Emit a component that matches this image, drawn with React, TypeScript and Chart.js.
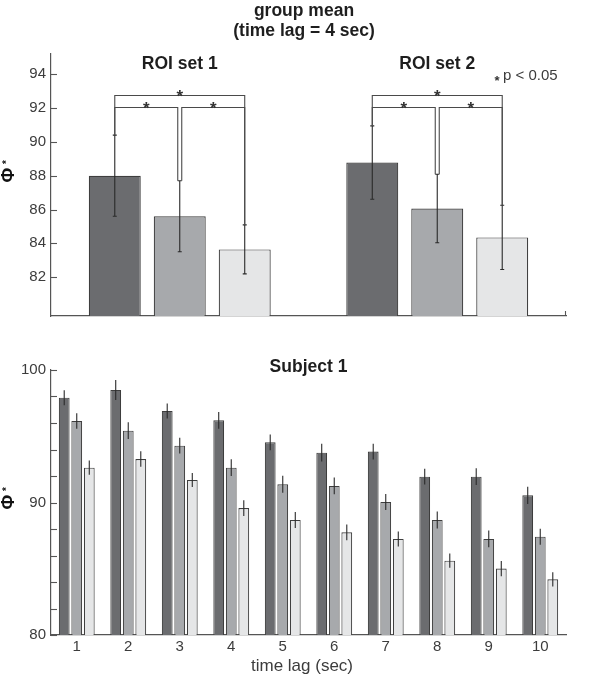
import React, { useEffect, useRef } from "react";
import { Chart, registerables } from "chart.js";

Chart.register(...registerables);

// ---- group mean panel (time lag = 4 sec) ----
const groupCategories = ["ROI set 1", "ROI set 2"];
const groupMeanA = [88.0, 88.78];
const groupMeanB = [85.6, 86.06];
const groupMeanC = [83.64, 84.35];
const groupErrA = [2.4, 2.17];
const groupErrB = [2.1, 2.03];
const groupErrC = [1.45, 1.9];
const groupTicks = [82, 84, 86, 88, 90, 92, 94];
// significance brackets per ROI set: [first bar, last bar, level in Φ* units]
const groupBrackets: [number, number, number][] = [
  [0, 2, 92.76],
  [0, 1, 92.07],
  [1, 2, 92.07],
];

// ---- Subject 1 panel ----
const lagLabels = ["1", "2", "3", "4", "5", "6", "7", "8", "9", "10"];
const subjA = [97.91, 98.49, 96.91, 96.2, 94.54, 93.76, 93.84, 91.95, 91.95, 90.54];
const subjB = [96.15, 95.42, 94.29, 92.63, 91.37, 91.25, 90.04, 88.68, 87.25, 87.42];
const subjC = [92.63, 93.28, 91.7, 89.58, 88.68, 87.75, 87.25, 85.61, 85.01, 84.2];
const subjErrA = [0.57, 0.75, 0.57, 0.63, 0.6, 0.67, 0.6, 0.6, 0.63, 0.65];
const subjErrB = [0.58, 0.63, 0.6, 0.63, 0.64, 0.63, 0.6, 0.65, 0.63, 0.6];
const subjErrC = [0.54, 0.59, 0.53, 0.59, 0.6, 0.59, 0.57, 0.54, 0.58, 0.54];
const subjTickMarks = [80, 82, 84, 86, 88, 90, 92, 94, 96, 98, 100];
const subjTickLabels = [80, 90, 100];

const DARK = "#6b6c6f";
const MID = "#a7a9ac";
const LIGHT = "#e5e6e7";
const EDGE = "#3e3e3e";
const AXIS = "#555555";
const TEXT = "#3c3c3c";
const TITLE = "#1e1e1e";
const FONT = '"Liberation Sans", Arial, sans-serif';

function errorBarPlugin(errs: number[][], means: number[][], cap: number) {
  return {
    id: "errorBars",
    afterDatasetsDraw(chart: any) {
      const ctx = chart.ctx;
      const y = chart.scales.y;
      ctx.save();
      ctx.strokeStyle = "#2a2a2a";
      ctx.lineWidth = 1.1;
      errs.forEach((errList, i) => {
        const meta = chart.getDatasetMeta(i);
        meta.data.forEach((bar: any, j: number) => {
          const top = y.getPixelForValue(means[i][j] + errList[j]);
          const bot = y.getPixelForValue(means[i][j] - errList[j]);
          ctx.beginPath();
          ctx.moveTo(bar.x, top);
          ctx.lineTo(bar.x, bot);
          if (cap > 0) {
            ctx.moveTo(bar.x - cap, top);
            ctx.lineTo(bar.x + cap, top);
            ctx.moveTo(bar.x - cap, bot);
            ctx.lineTo(bar.x + cap, bot);
          }
          ctx.stroke();
        });
      });
      ctx.restore();
    },
  };
}

function tickMarkPlugin(values: number[]) {
  return {
    id: "innerTicks",
    afterDraw(chart: any) {
      const ctx = chart.ctx;
      const y = chart.scales.y;
      const left = chart.chartArea.left;
      ctx.save();
      ctx.strokeStyle = AXIS;
      ctx.lineWidth = 1.1;
      values.forEach((v) => {
        const py = Math.round(y.getPixelForValue(v)) + 0.5;
        ctx.beginPath();
        ctx.moveTo(left, py);
        ctx.lineTo(left + 6, py);
        ctx.stroke();
      });
      ctx.restore();
    },
  };
}

// rotated axis title: Φ with a superscript asterisk
function drawPhi(ctx: CanvasRenderingContext2D, x: number, y: number) {
  ctx.save();
  ctx.translate(x, y);
  ctx.rotate(-Math.PI / 2);
  ctx.fillStyle = "#111";
  ctx.font = `bold 18px ${FONT}`;
  ctx.textAlign = "center";
  ctx.textBaseline = "alphabetic";
  ctx.fillText("Φ", 0, 0);
  ctx.font = `bold 10px ${FONT}`;
  ctx.fillText("*", 13, -4.5);
  ctx.restore();
}

function drawStar(ctx: CanvasRenderingContext2D, x: number, y: number, size: number) {
  ctx.save();
  ctx.fillStyle = "#333";
  ctx.font = `bold ${size}px ${FONT}`;
  ctx.textAlign = "center";
  ctx.textBaseline = "alphabetic";
  ctx.fillText("*", x, y);
  ctx.restore();
}

const groupDecor = {
  id: "groupDecor",
  afterDraw(chart: any) {
    const ctx = chart.ctx;
    const y = chart.scales.y;
    const x = chart.scales.x;
    const area = chart.chartArea;
    const means = [groupMeanA, groupMeanB, groupMeanC];
    const errs = [groupErrA, groupErrB, groupErrC];
    ctx.save();
    // titles
    ctx.fillStyle = TITLE;
    ctx.textAlign = "center";
    ctx.textBaseline = "middle";
    ctx.font = `bold 17.5px ${FONT}`;
    ctx.fillText("group mean", 304, 11);
    ctx.fillText("(time lag = 4 sec)", 304, 31);
    groupCategories.forEach((c, i) => {
      ctx.fillText(c, x.getPixelForValue(i), 64);
    });
    // significance note
    drawStar(ctx, 497, 85, 13);
    ctx.fillStyle = TEXT;
    ctx.font = `15px ${FONT}`;
    ctx.textAlign = "left";
    ctx.textBaseline = "middle";
    ctx.fillText("p < 0.05", 503, 76);
    // brackets
    ctx.strokeStyle = "#4a4a4a";
    ctx.lineWidth = 1.1;
    groupCategories.forEach((_, ci) => {
      const xs = [0, 1, 2].map((k) => chart.getDatasetMeta(k).data[ci].x);
      const tops = [0, 1, 2].map((k) => y.getPixelForValue(means[k][ci] + errs[k][ci]));
      groupBrackets.forEach(([a, b, level]) => {
        const ly = Math.round(y.getPixelForValue(level)) + 0.5;
        const xa = a === 1 ? xs[a] + 2 : xs[a];
        const xb = b === 1 ? xs[b] - 2 : xs[b];
        ctx.beginPath();
        ctx.moveTo(xa, tops[a]);
        ctx.lineTo(xa, ly);
        ctx.lineTo(xb, ly);
        ctx.lineTo(xb, tops[b]);
        ctx.stroke();
        drawStar(ctx, (xa + xb) / 2, ly + 6, 17);
      });
    });
    // end mark on the baseline
    ctx.strokeStyle = AXIS;
    ctx.beginPath();
    ctx.moveTo(area.right - 0.5, area.bottom);
    ctx.lineTo(area.right - 0.5, area.bottom - 5);
    ctx.stroke();
    drawPhi(ctx, 14, 175);
    ctx.restore();
  },
};

const subjectDecor = {
  id: "subjectDecor",
  afterDraw(chart: any) {
    const ctx = chart.ctx;
    const area = chart.chartArea;
    ctx.save();
    ctx.fillStyle = TITLE;
    ctx.textAlign = "center";
    ctx.textBaseline = "middle";
    ctx.font = `bold 17.5px ${FONT}`;
    ctx.fillText("Subject 1", (area.left + area.right) / 2, 27);
    ctx.fillStyle = TEXT;
    ctx.font = `17px ${FONT}`;
    ctx.fillText("time lag (sec)", 302, 326);
    drawPhi(ctx, 14, 162);
    ctx.restore();
  },
};

function baseScales(yMin: number, yMax: number, xHeight: number) {
  return {
    x: {
      grid: { display: false, drawTicks: false },
      border: { display: true, color: AXIS, width: 1.2 },
      ticks: { display: false },
      afterFit: (s: any) => {
        s.height = xHeight;
      },
    },
    y: {
      min: yMin,
      max: yMax,
      grid: { display: false, drawTicks: false },
      border: { display: true, color: AXIS, width: 1.2 },
      ticks: { color: TEXT, font: { family: FONT, size: 15 }, padding: 5 },
      afterFit: (s: any) => {
        s.width = 51;
      },
    },
  };
}

function GroupMeanChart() {
  const ref = useRef<HTMLCanvasElement>(null);
  useEffect(() => {
    if (!ref.current) return;
    const scales: any = baseScales(79.7, 95.2, 24);
    scales.y.afterBuildTicks = (s: any) => {
      s.ticks = groupTicks.map((v) => ({ value: v }));
    };
    const ds = (data: number[], color: string) => ({
      data,
      backgroundColor: color,
      borderColor: EDGE,
      borderWidth: 1.2,
      categoryPercentage: 0.757,
      barPercentage: 0.8,
    });
    const chart = new Chart(ref.current, {
      type: "bar",
      data: {
        labels: groupCategories,
        datasets: [ds(groupMeanA, DARK), ds(groupMeanB, MID), ds(groupMeanC, LIGHT)],
      },
      options: {
        animation: false,
        responsive: false,
        maintainAspectRatio: false,
        layout: { padding: { top: 54, right: 31, left: 0, bottom: 0 } },
        plugins: { legend: { display: false }, tooltip: { enabled: false } },
        scales,
      } as any,
      plugins: [
        errorBarPlugin([groupErrA, groupErrB, groupErrC], [groupMeanA, groupMeanB, groupMeanC], 2),
        tickMarkPlugin(groupTicks),
        groupDecor,
      ],
    });
    return () => chart.destroy();
  }, []);
  return <canvas ref={ref} width={597} height={340} style={{ display: "block" }} />;
}

function SubjectChart() {
  const ref = useRef<HTMLCanvasElement>(null);
  useEffect(() => {
    if (!ref.current) return;
    const scales: any = baseScales(80, 100, 43);
    scales.y.afterBuildTicks = (s: any) => {
      s.ticks = subjTickMarks.map((v) => ({ value: v }));
    };
    scales.y.ticks.callback = (v: number) => (subjTickLabels.includes(v) ? String(v) : "");
    scales.x.ticks = { display: true, color: TEXT, font: { family: FONT, size: 15 }, padding: 3 };
    const ds = (data: number[], color: string) => ({
      data,
      backgroundColor: color,
      borderColor: EDGE,
      borderWidth: 1.1,
      categoryPercentage: 0.73,
      barPercentage: 0.86,
    });
    const chart = new Chart(ref.current, {
      type: "bar",
      data: {
        labels: lagLabels,
        datasets: [ds(subjA, DARK), ds(subjB, MID), ds(subjC, LIGHT)],
      },
      options: {
        animation: false,
        responsive: false,
        maintainAspectRatio: false,
        layout: { padding: { top: 30, right: 31, left: 0, bottom: 0 } },
        plugins: { legend: { display: false }, tooltip: { enabled: false } },
        scales,
      } as any,
      plugins: [
        errorBarPlugin([subjErrA, subjErrB, subjErrC], [subjA, subjB, subjC], 0),
        tickMarkPlugin(subjTickMarks),
        subjectDecor,
      ],
    });
    return () => chart.destroy();
  }, []);
  return <canvas ref={ref} width={597} height={338} style={{ display: "block" }} />;
}

export default function App() {
  return (
    <div style={{ position: "absolute", left: 0, top: 0, width: 597, height: 678, background: "#fff" }}>
      <GroupMeanChart />
      <SubjectChart />
    </div>
  );
}
